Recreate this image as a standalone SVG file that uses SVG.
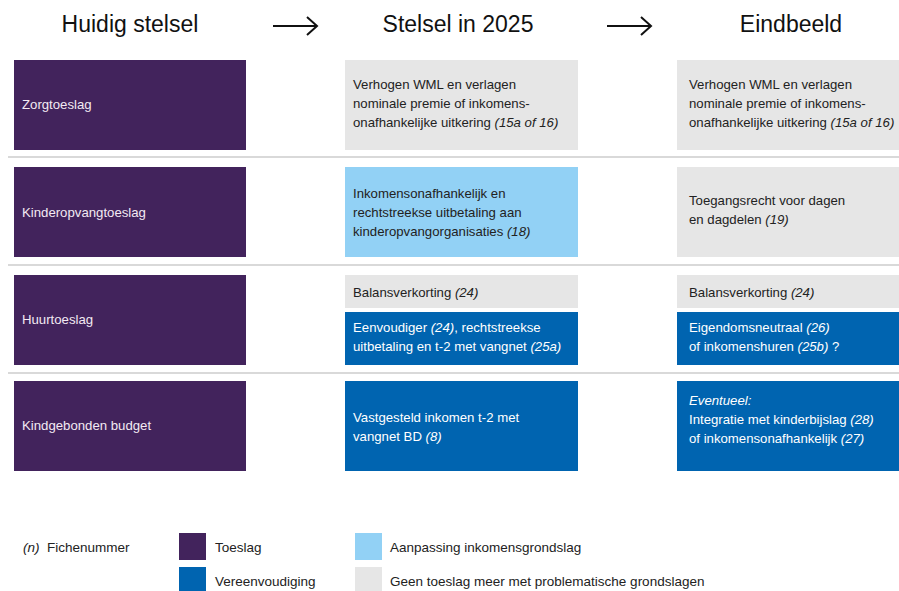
<svg xmlns="http://www.w3.org/2000/svg" width="899" height="591" viewBox="0 0 899 591">
<style>
text{font-family:"Liberation Sans","Noto Sans",sans-serif;font-size:13.2px}
.title{font-size:23px;fill:#111;text-anchor:middle}
.leg{font-size:13.5px}
.pur{fill:#42235c}
.blu{fill:#0064b0}
.lbl{fill:#92d1f5}
.gry{fill:#e6e6e6}
.tw{fill:#f3eaf3}
.tb{fill:#ffffff}
.td{fill:#222222}
.sep{stroke:#d9d9d9;stroke-width:2}
.arr{fill:none;stroke:#111;stroke-width:2}
.it{font-style:italic}
</style>
<rect width="899" height="591" fill="#ffffff"/>
<g id="titles">
<text class="title" x="130" y="32">Huidig stelsel</text>
<text class="title" x="458" y="32">Stelsel in 2025</text>
<text class="title" x="791" y="32">Eindbeeld</text>
</g>
<g id="connectors">
<path class="arr" d="M273 26 H317 M307 17 L317 26 L307 35"/>
<path class="arr" d="M607 26 H651 M641 17 L651 26 L641 35"/>
</g>
<g id="separators">
<line class="sep" x1="8" y1="157" x2="899" y2="157"/>
<line class="sep" x1="8" y1="265" x2="899" y2="265"/>
<line class="sep" x1="8" y1="373" x2="899" y2="373"/>
</g>
<g id="zorgtoeslag">
<rect class="pur" x="14" y="60" width="232" height="90"/>
<text class="tw" x="22" y="109">Zorgtoeslag</text>
</g>
<g id="zorg-2025">
<rect class="gry" x="345" y="60" width="233" height="90"/>
<text class="td" x="353" y="89">Verhogen WML en verlagen</text>
<text class="td" x="353" y="108">nominale premie of inkomens-</text>
<text class="td" x="353" y="127">onafhankelijke uitkering <tspan class="it">(15a of 16)</tspan></text>
</g>
<g id="zorg-eind">
<rect class="gry" x="677" y="60" width="222" height="90"/>
<text class="td" x="689" y="89">Verhogen WML en verlagen</text>
<text class="td" x="689" y="108">nominale premie of inkomens-</text>
<text class="td" x="689" y="127">onafhankelijke uitkering <tspan class="it">(15a of 16)</tspan></text>
</g>
<g id="kinderopvangtoeslag">
<rect class="pur" x="14" y="167" width="232" height="90"/>
<text class="tw" x="22" y="217">Kinderopvangtoeslag</text>
</g>
<g id="kot-2025">
<rect class="lbl" x="345" y="167" width="233" height="90"/>
<text class="td" x="353" y="198">Inkomensonafhankelijk en</text>
<text class="td" x="353" y="217">rechtstreekse uitbetaling aan</text>
<text class="td" x="353" y="236">kinderopvangorganisaties <tspan class="it">(18)</tspan></text>
</g>
<g id="kot-eind">
<rect class="gry" x="677" y="167" width="222" height="90"/>
<text class="td" x="689" y="205">Toegangsrecht voor dagen</text>
<text class="td" x="689" y="224">en dagdelen <tspan class="it">(19)</tspan></text>
</g>
<g id="huurtoeslag">
<rect class="pur" x="14" y="275" width="232" height="90"/>
<text class="tw" x="22" y="324">Huurtoeslag</text>
</g>
<g id="huur-2025">
<rect class="gry" x="345" y="275" width="233" height="33"/>
<text class="td" x="353" y="297">Balansverkorting <tspan class="it">(24)</tspan></text>
<rect class="blu" x="345" y="312" width="233" height="53"/>
<text class="tb" x="353" y="332">Eenvoudiger <tspan class="it">(24)</tspan>, rechtstreekse</text>
<text class="tb" x="353" y="351">uitbetaling en t-2 met vangnet <tspan class="it">(25a)</tspan></text>
</g>
<g id="huur-eind">
<rect class="gry" x="677" y="275" width="222" height="33"/>
<text class="td" x="689" y="297">Balansverkorting <tspan class="it">(24)</tspan></text>
<rect class="blu" x="677" y="312" width="222" height="53"/>
<text class="tb" x="689" y="332">Eigendomsneutraal <tspan class="it">(26)</tspan></text>
<text class="tb" x="689" y="351">of inkomenshuren <tspan class="it">(25b)</tspan> ?</text>
</g>
<g id="kindgebonden-budget">
<rect class="pur" x="14" y="381" width="232" height="90"/>
<text class="tw" x="22" y="430">Kindgebonden budget</text>
</g>
<g id="kgb-2025">
<rect class="blu" x="345" y="381" width="233" height="90"/>
<text class="tb" x="353" y="422">Vastgesteld inkomen t-2 met</text>
<text class="tb" x="353" y="441">vangnet BD <tspan class="it">(8)</tspan></text>
</g>
<g id="kgb-eind">
<rect class="blu" x="677" y="381" width="222" height="90"/>
<text class="tb it" x="689" y="405">Eventueel:</text>
<text class="tb" x="689" y="424">Integratie met kinderbijslag <tspan class="it">(28)</tspan></text>
<text class="tb" x="689" y="443">of inkomensonafhankelijk <tspan class="it">(27)</tspan></text>
</g>
<g id="legend">
<text class="td it leg" x="23" y="552">(n)</text>
<text class="td leg" x="47" y="552">Fichenummer</text>
<rect class="pur" x="179" y="533" width="27" height="27"/>
<text class="td leg" x="215" y="552">Toeslag</text>
<rect class="blu" x="179" y="567" width="27" height="27"/>
<text class="td leg" x="215" y="586">Vereenvoudiging</text>
<rect class="lbl" x="355" y="533" width="27" height="27"/>
<text class="td leg" x="390" y="552">Aanpassing inkomensgrondslag</text>
<rect class="gry" x="355" y="567" width="27" height="27"/>
<text class="td leg" x="390" y="586">Geen toeslag meer met problematische grondslagen</text>
</g>
</svg>
